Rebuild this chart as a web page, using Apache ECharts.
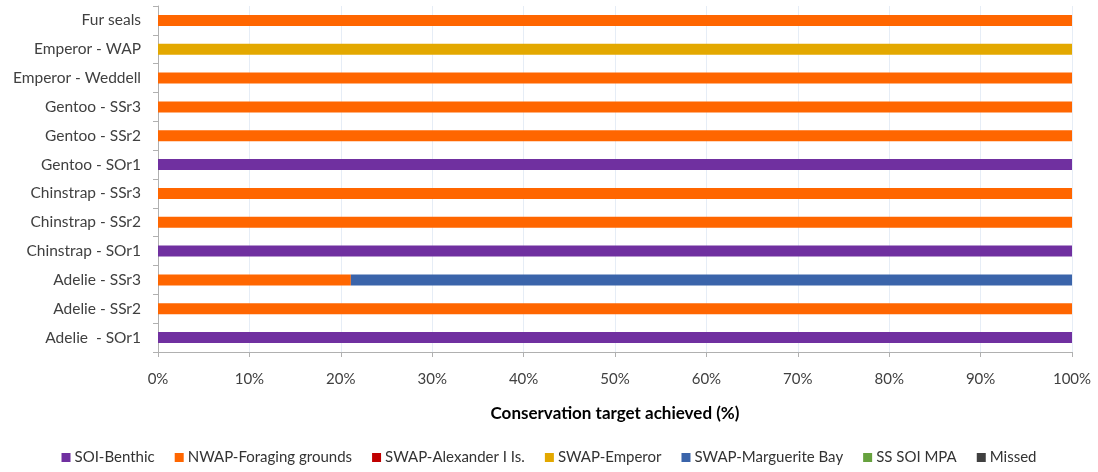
<!DOCTYPE html>
<html>
<head>
<meta charset="utf-8">
<script src="https://cdn.jsdelivr.net/npm/echarts@6/dist/echarts.min.js"></script>
<style>
html,body{margin:0;padding:0;background:#fff;}
#chart{width:1098px;height:472px;}
</style>
</head>
<body>
<div id="chart"></div>
<script>
// Populations / regions, bottom to top
const categories = [
  'Adelie  - SOr1', 'Adelie - SSr2', 'Adelie - SSr3',
  'Chinstrap - SOr1', 'Chinstrap - SSr2', 'Chinstrap - SSr3',
  'Gentoo - SOr1', 'Gentoo - SSr2', 'Gentoo - SSr3',
  'Emperor - Weddell', 'Emperor - WAP', 'Fur seals'
];

// Share of the conservation target achieved in each area (%)
const soiBenthic      = [100, 0, 0, 100, 0, 0, 100, 0, 0, 0, 0, 0];
const nwapForaging    = [0, 100, 21.1, 0, 100, 100, 0, 100, 100, 100, 0, 100];
const swapAlexander   = [0, 0, 0, 0, 0, 0, 0, 0, 0, 0, 0, 0];
const swapEmperor     = [0, 0, 0, 0, 0, 0, 0, 0, 0, 0, 100, 0];
const swapMarguerite  = [0, 0, 78.9, 0, 0, 0, 0, 0, 0, 0, 0, 0];
const ssSoiMpa        = [0, 0, 0, 0, 0, 0, 0, 0, 0, 0, 0, 0];
const missed          = [0, 0, 0, 0, 0, 0, 0, 0, 0, 0, 0, 0];

const xTicks = [0, 10, 20, 30, 40, 50, 60, 70, 80, 90, 100];

const seriesDefs = [
  ['SOI-Benthic', soiBenthic, '#7030A0'],
  ['NWAP-Foraging grounds', nwapForaging, '#FF6600'],
  ['SWAP-Alexander I Is.', swapAlexander, '#C00000'],
  ['SWAP-Emperor', swapEmperor, '#E3A800'],
  ['SWAP-Marguerite Bay', swapMarguerite, '#3A64AA'],
  ['SS SOI MPA', ssSoiMpa, '#67A23E'],
  ['Missed', missed, '#404040']
];

const font = 'Lato, "Open Sans", sans-serif';
const chart = echarts.init(document.getElementById('chart'), null, {renderer: 'canvas'});

chart.setOption({
  animation: false,
  backgroundColor: '#fff',
  textStyle: {fontFamily: font},
  grid: {left: 158, right: 26, top: 6, bottom: 120, containLabel: false},
  legend: {
    bottom: 2,
    left: 'center',
    itemWidth: 9,
    itemHeight: 9,
    itemGap: 20,
    icon: 'rect',
    textStyle: {fontFamily: font, fontSize: 15, color: '#333', padding: [0, 0, 0, -1]},
    data: seriesDefs.map(d => d[0])
  },
  xAxis: {
    type: 'value',
    min: xTicks[0],
    max: xTicks[xTicks.length - 1],
    interval: 10,
    name: 'Conservation target achieved (%)',
    nameLocation: 'middle',
    nameGap: 53,
    nameTextStyle: {fontFamily: font, fontSize: 17, fontWeight: 'bold', color: '#000'},
    axisLine: {show: true, lineStyle: {color: '#b0b0b0', width: 1}},
    axisTick: {show: true, length: 5, lineStyle: {color: '#b0b0b0'}},
    axisLabel: {formatter: v => v + '%', fontFamily: font, fontSize: 15, color: '#404040', margin: 20},
    splitLine: {show: true, lineStyle: {color: '#e6edf6', width: 1}}
  },
  yAxis: {
    type: 'category',
    data: categories,
    axisLine: {show: true, lineStyle: {color: '#b0b0b0', width: 1}},
    axisTick: {show: true, length: 5, lineStyle: {color: '#b0b0b0'}},
    axisLabel: {fontFamily: font, fontSize: 15.5, color: '#404040', margin: 17},
    splitLine: {show: false}
  },
  series: seriesDefs.map(([name, values, color]) => ({
    name: name,
    type: 'bar',
    stack: 'total',
    data: values,
    barWidth: 11,
    itemStyle: {color: color},
    emphasis: {disabled: true}
  }))
});
</script>
</body>
</html>
